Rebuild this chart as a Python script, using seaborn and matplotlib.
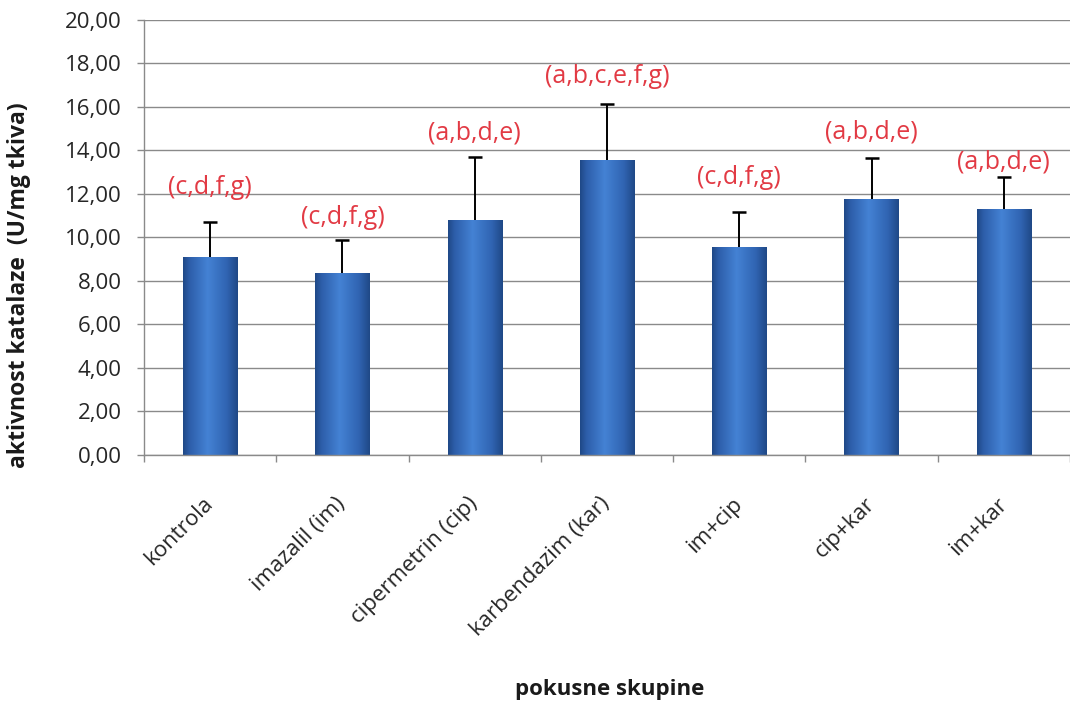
import numpy as np
import pandas as pd
import matplotlib
matplotlib.use("Agg")
import matplotlib.pyplot as plt
from matplotlib.colors import LinearSegmentedColormap
import seaborn as sns

# Catalase activity per experimental group (mean and SD, U/mg tissue)
groups = ["kontrola", "imazalil (im)", "cipermetrin (cip)", "karbendazim (kar)",
          "im+cip", "cip+kar", "im+kar"]
means = [9.09, 8.35, 10.80, 13.56, 9.58, 11.77, 11.30]
sds = [1.62, 1.54, 2.92, 2.56, 1.61, 1.87, 1.50]
letters = ["(c,d,f,g)", "(c,d,f,g)", "(a,b,d,e)", "(a,b,c,e,f,g)",
           "(c,d,f,g)", "(a,b,d,e)", "(a,b,d,e)"]
letter_y = [12.28, 10.94, 14.80, 17.38, 12.78, 14.85, 13.47]
yticks = [0, 2, 4, 6, 8, 10, 12, 14, 16, 18, 20]

sns.set_theme(style="white")
plt.rcParams["font.family"] = ["Open Sans", "DejaVu Sans"]

df = pd.DataFrame({"group": groups, "mean": means})

fig = plt.figure(figsize=(10.70, 7.01), dpi=100)
ax = fig.add_axes([0.1346, 0.351, 0.8654, 0.6205])

ax.set_axisbelow(True)
ax.yaxis.grid(True, color="#8a8a8a", linewidth=1.0)
ax.xaxis.grid(False)

sns.barplot(data=df, x="group", y="mean", color="#3a6fc0", width=0.41,
            edgecolor="none", ax=ax, zorder=2)

# cylindrical shading on each bar
shade = LinearSegmentedColormap.from_list(
    "barshade",
    [(0.0, "#1f4886"), (0.12, "#2d5eaa"), (0.45, "#4482d4"),
     (0.80, "#3064b2"), (1.0, "#1f4886")])
grad = np.linspace(0, 1, 256).reshape(1, -1)
for patch in list(ax.patches):
    x0, y0 = patch.get_x(), patch.get_y()
    w, h = patch.get_width(), patch.get_height()
    im = ax.imshow(grad, cmap=shade, aspect="auto",
                   extent=[x0, x0 + w, y0, y0 + h], zorder=2.5)
    im.set_clip_path(patch)

# upper-only SD whiskers
xpos = np.arange(len(groups))
_, caps, _ = ax.errorbar(xpos, means, yerr=[np.zeros(len(sds)), sds],
                         fmt="none", ecolor="black", elinewidth=1.4,
                         capsize=5, capthick=1.8, zorder=3)
caps[0].set_visible(False)

for x, y, t in zip(xpos, letter_y, letters):
    ax.text(x, y, t, ha="center", va="center", color="#e23a44",
            fontsize=18, zorder=4)

ax.set_xlim(-0.5, 6.41)
ax.set_ylim(0, 20)
ax.set_yticks(yticks)
ax.set_yticklabels([f"{v:.2f}".replace(".", ",") for v in yticks],
                   fontsize=16, color="#262626")

ax.set_xticks(xpos)
ax.set_xticklabels(groups, rotation=45, ha="right", va="center",
                   rotation_mode="anchor", fontsize=16, color="#262626")
ax.set_xticks(np.arange(-0.5, 7, 1), minor=True)
ax.tick_params(axis="x", which="major", length=0, pad=33)
ax.tick_params(axis="x", which="minor", length=5, width=1, color="#8a8a8a",
               direction="out", bottom=True)
ax.tick_params(axis="y", which="major", length=5, width=1, color="#8a8a8a",
               direction="out", left=True, pad=11)

for side in ["top", "right"]:
    ax.spines[side].set_visible(False)
for side in ["left", "bottom"]:
    ax.spines[side].set_color("#8a8a8a")
    ax.spines[side].set_linewidth(1.0)

ax.set_ylabel("aktivnost katalaze  (U/mg tkiva)", fontsize=16.5,
              fontweight="bold", color="#1a1a1a")
ax.yaxis.set_label_coords(-0.122, 0.39)
ax.set_xlabel("pokusne skupine", fontsize=16, fontweight="bold",
              color="#1a1a1a")
ax.xaxis.set_label_coords(0.503, -0.515)

fig.savefig("out.png", dpi=100)
